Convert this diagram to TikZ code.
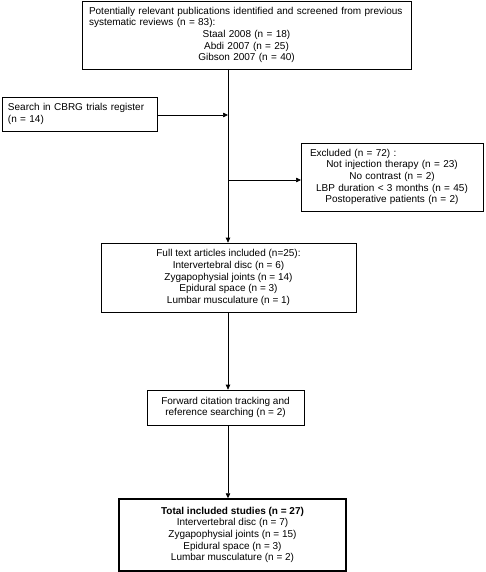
\documentclass[tikz,border=0pt]{standalone}
\usepackage{fontspec}
\setmainfont{Liberation Sans}
\usetikzlibrary{arrows.meta}
\begin{document}
\begin{tikzpicture}[x=1pt,y=-1pt,
  box/.style={draw, line width=0.7pt, inner sep=0pt, font=\fontsize{10}{11.7}\selectfont},
  arr/.style={line width=0.7pt, -{Triangle[length=5pt,width=4.5pt]}},
  ln/.style={line width=0.7pt}]
\useasboundingbox (0,0) rectangle (485,572);
\node[box, minimum width=329pt, minimum height=68pt, text width=315pt, align=left] (pub) at (246.5,35)
 {Potentially relevant publications identified and screened from previous\\
  systematic reviews (n = 83):\\
  \makebox[\linewidth]{Staal 2008 (n = 18)}\\
  \makebox[\linewidth]{Abdi 2007 (n = 25)}\\
  \makebox[\linewidth]{Gibson 2007 (n = 40)}};
\node[box, minimum width=155pt, minimum height=34pt, text width=143pt, align=left] (cbrg) at (79.5,114)
 {Search in CBRG trials register\\(n = 14)};
\node[box, minimum width=182pt, minimum height=68pt, text width=164pt, align=left] (excl) at (392,177)
 {Excluded (n = 72) :\\
  \makebox[\linewidth]{Not injection therapy (n = 23)}\\
  \makebox[\linewidth]{No contrast (n = 2)}\\
  \makebox[\linewidth]{LBP duration < 3 months (n = 45)}\\
  \makebox[\linewidth]{Postoperative patients (n = 2)}};
\node[box, minimum width=255pt, minimum height=69pt, align=center] (full) at (228.5,277.5)
 {Full text articles included (n=25):\\
  Intervertebral disc (n = 6)\\
  Zygapophysial joints (n = 14)\\
  Epidural space (n = 3)\\
  Lumbar musculature (n = 1)};
\node[box, minimum width=157pt, minimum height=35pt, align=center] (fwd) at (225.5,407.5)
 {Forward citation tracking and\\reference searching (n = 2)};
\node[box, line width=1.5pt, minimum width=227pt, minimum height=72pt, align=center] (tot) at (232.5,535)
 {\textbf{Total included studies (n = 27)}\\
  Intervertebral disc (n = 7)\\
  Zygapophysial joints (n = 15)\\
  Epidural space (n = 3)\\
  Lumbar musculature (n = 2)};
\coordinate (top) at (228,69);
\coordinate (jA) at (228,115);
\coordinate (jB) at (228,180);
\coordinate (eB) at (301,180);
\draw[arr] (top) -- (top |- full.north);
\draw[arr] (cbrg.east |- jA) -- (jA);
\draw[arr] (jB) -- (eB);
\draw[arr] (full.south -| top) -- (top |- fwd.north);
\draw[arr] (fwd.south -| top) -- (top |- tot.north);
\end{tikzpicture}
\end{document}
